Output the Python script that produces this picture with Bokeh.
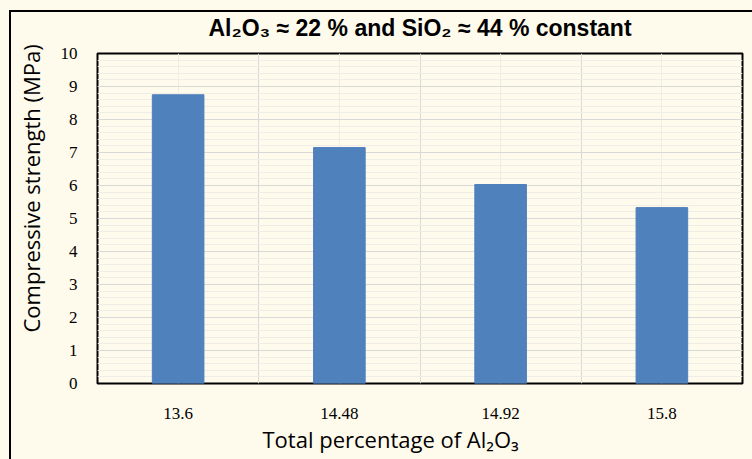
from bokeh.plotting import figure
from bokeh.models import FixedTicker, SingleIntervalTicker, Range1d, Title
from bokeh.embed import file_html
from bokeh.resources import INLINE

# Compressive strength against total Al2O3 content
categories = ["13.6", "14.48", "14.92", "15.8"]
strength = [8.75, 7.15, 6.03, 5.33]
positions = [i + 1 for i in range(len(categories))]

BG = "#FFFBEC"
BAR = "#4F81BD"
LABEL_FONT = "Open Sans"

p = figure(width=752, height=459, output_backend="svg", toolbar_location=None,
           x_range=Range1d(0.5, len(categories) + 0.5), y_range=Range1d(0, 10),
           min_border_left=97, min_border_right=10, min_border_top=53, min_border_bottom=76)
p.background_fill_color = BG
# transparent surround so the element's own background and frame line show through
p.border_fill_alpha = 0
p.styles = {
    "background-color": BG,
    "box-shadow": f"inset 9px 10px 0 0 {BG}, inset 11px 12px 0 0 black",
}
p.outline_line_color = "black"
p.outline_line_width = 2

p.vbar(x=positions, top=strength, width=0.32, color=BAR)

# y axis: integer labels, minor grid every 0.2
p.yaxis.ticker = SingleIntervalTicker(interval=1, num_minor_ticks=5)
p.ygrid.ticker = SingleIntervalTicker(interval=1, num_minor_ticks=5)
p.ygrid.grid_line_color = "#D9D9D9"
p.ygrid.minor_grid_line_color = "#EFEDE6"

# x axis: labels at bar centres, major grid between categories
p.xaxis.ticker = FixedTicker(ticks=positions)
p.xaxis.major_label_overrides = {pos: lab for pos, lab in zip(positions, categories)}
p.xgrid.ticker = FixedTicker(ticks=[1.5, 2.5, 3.5], minor_ticks=positions)
p.xgrid.grid_line_color = "#D9D9D9"
p.xgrid.minor_grid_line_color = "#EFEDE6"

for ax in (p.xaxis[0], p.yaxis[0]):
    ax.axis_line_color = None
    ax.major_tick_line_color = None
    ax.minor_tick_line_color = None
    ax.major_label_text_font = "Liberation Serif"
    ax.major_label_text_font_size = "17px"
    ax.major_label_text_color = "black"

p.xaxis.major_label_standoff = 18
p.yaxis.major_label_standoff = 14

# axis titles, placed off-centre along each axis
p.add_layout(Title(text="Total percentage of Al\u2082O\u2083", align="left", offset=165,
                   standoff=0, text_font=LABEL_FONT, text_font_size="22px",
                   text_font_style="normal", text_color="black"), "below")
p.add_layout(Title(text="Compressive strength (MPa)", align="left", offset=51,
                   standoff=24, text_font=LABEL_FONT, text_font_size="22px",
                   text_font_style="normal", text_color="black"), "left")

p.title = Title(text="Al\u2082O\u2083 \u2248 22 % and SiO\u2082 \u2248 44 % constant",
                align="center", text_font="Liberation Sans", text_font_size="23px",
                text_font_style="bold", text_color="black", standoff=25)

open("out.html", "w").write(file_html(p, INLINE))
